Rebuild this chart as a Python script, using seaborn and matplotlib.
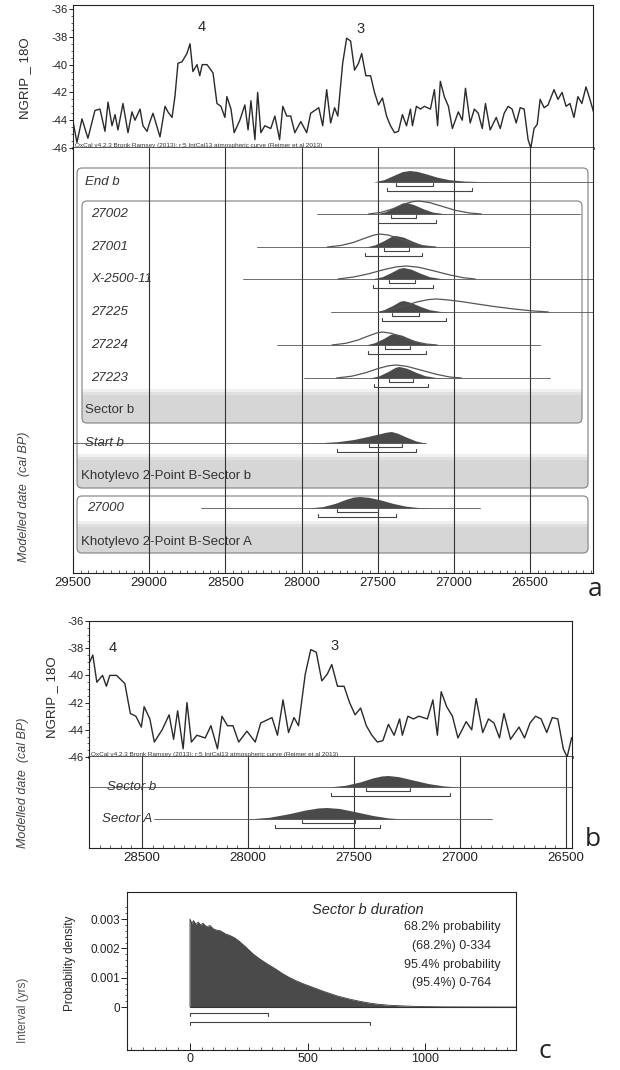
import numpy as np
import pandas as pd
import matplotlib
matplotlib.use("Agg")
import matplotlib.pyplot as plt
import matplotlib.ticker as mticker
import matplotlib.transforms as mtransforms
from matplotlib.patches import FancyBboxPatch, Rectangle
import seaborn as sns

W, H = 620, 1070

# NGRIP d18O record (cal BP / permil)
ngrip_year = [29500, 29474, 29441, 29402, 29356, 29323, 29290, 29270, 29244, 29224,
              29205, 29172, 29139, 29113, 29093, 29060, 29041, 29014, 28995, 28975,
              28929, 28896, 28877, 28850, 28831, 28811, 28785, 28752, 28732, 28713,
              28686, 28668, 28652, 28620, 28581, 28555, 28529, 28503, 28490, 28463,
              28442, 28405, 28372, 28351, 28332, 28306, 28288, 28267, 28241, 28202,
              28175, 28144, 28123, 28097, 28071, 28044, 28005, 27966, 27940, 27887,
              27861, 27835, 27809, 27783, 27762, 27730, 27704, 27678, 27652, 27626,
              27605, 27578, 27547, 27521, 27495, 27469, 27442, 27416, 27390, 27364,
              27338, 27311, 27285, 27272, 27246, 27220, 27194, 27154, 27128, 27107,
              27089, 27063, 27036, 27010, 26971, 26945, 26924, 26893, 26866, 26840,
              26814, 26793, 26762, 26722, 26696, 26670, 26644, 26618, 26591, 26565,
              26539, 26513, 26495, 26474, 26453, 26434, 26408, 26382, 26343, 26317,
              26290, 26264, 26238, 26212, 26186, 26160, 26133, 26107, 26081]
ngrip_d18o = [-44.1, -45.6, -43.9, -45.3, -43.3, -43.2, -44.8, -42.7, -44.4, -43.6,
              -44.7, -42.8, -44.9, -43.4, -44.0, -43.2, -44.4, -44.8, -44.1, -43.5,
              -45.2, -43.0, -43.4, -43.8, -42.3, -39.9, -39.8, -39.2, -38.5, -40.5,
              -40.0, -40.8, -40.0, -40.0, -40.6, -42.8, -43.0, -43.8, -42.3, -43.2,
              -44.9, -44.0, -42.9, -44.7, -42.6, -45.4, -42.0, -44.9, -44.4, -44.6,
              -43.7, -45.4, -43.0, -43.7, -43.7, -44.9, -44.1, -44.9, -43.5, -43.1,
              -44.4, -41.8, -44.2, -43.1, -43.7, -39.9, -38.1, -38.3, -40.4, -39.9,
              -39.2, -40.8, -40.8, -42.0, -42.9, -42.4, -43.7, -44.4, -44.9, -44.8,
              -43.6, -44.4, -43.2, -44.4, -43.0, -43.2, -43.0, -43.2, -41.8, -44.4,
              -41.2, -42.3, -43.0, -44.6, -43.4, -44.0, -41.7, -44.2, -43.2, -43.5,
              -44.6, -42.8, -44.7, -43.8, -44.6, -43.5, -43.0, -43.2, -44.2, -43.1,
              -43.2, -45.4, -46.0, -44.6, -44.3, -42.5, -43.1, -42.9, -41.8, -42.5,
              -42.0, -43.0, -42.8, -43.8, -42.3, -42.8, -41.6, -42.5, -43.5]
assert len(ngrip_year) == len(ngrip_d18o)

# panel a: modelled dates (posterior = filled, likelihood = outline), relative heights
row_labels = ["End b", "27002", "27001", "X-2500-11", "27225", "27224", "27223", "Start b", "27000"]

end_b_yr = [27530, 27460, 27400, 27340, 27290, 27240, 27180, 27110, 27030, 26930, 26800, 26600, 26350]
end_b_post = [0, 0.2, 0.55, 0.9, 1.0, 0.92, 0.7, 0.42, 0.2, 0.08, 0.03, 0.01, 0]

s27002_yr = [27510, 27450, 27390, 27340, 27310, 27260, 27200, 27140, 27070, 27000]
s27002_post = [0, 0.2, 0.6, 0.95, 1.0, 0.8, 0.45, 0.17, 0.04, 0]
s27002_like_yr = [27560, 27480, 27400, 27330, 27270, 27230, 27160, 27080, 26990, 26900, 26820]
s27002_like = [0, 0.12, 0.4, 0.75, 0.95, 1.0, 0.88, 0.6, 0.28, 0.08, 0]

s27001_yr = [27580, 27520, 27460, 27410, 27380, 27330, 27270, 27210, 27140, 27070]
s27001_post = [0, 0.18, 0.55, 0.92, 1.0, 0.85, 0.5, 0.2, 0.05, 0]
s27001_like_yr = [27830, 27740, 27660, 27590, 27530, 27490, 27430, 27360, 27280, 27200, 27120]
s27001_like = [0, 0.12, 0.35, 0.65, 0.9, 1.0, 0.92, 0.65, 0.3, 0.08, 0]

x2500_yr = [27540, 27470, 27410, 27360, 27330, 27280, 27220, 27160, 27090, 27020]
x2500_post = [0, 0.2, 0.58, 0.93, 1.0, 0.85, 0.5, 0.2, 0.05, 0]
x2500_like_yr = [27760, 27660, 27560, 27460, 27380, 27310, 27230, 27130, 27030, 26940, 26860]
x2500_like = [0, 0.15, 0.4, 0.72, 0.93, 1.0, 0.9, 0.62, 0.32, 0.1, 0]

s27225_yr = [27520, 27460, 27400, 27355, 27330, 27280, 27220, 27160, 27090, 27020]
s27225_post = [0, 0.2, 0.58, 0.93, 1.0, 0.82, 0.48, 0.2, 0.05, 0]
s27225_like_yr = [27480, 27400, 27320, 27240, 27170, 27115, 27040, 26950, 26850, 26740, 26620, 26500, 26380]
s27225_like = [0, 0.2, 0.5, 0.78, 0.95, 1.0, 0.93, 0.8, 0.62, 0.43, 0.25, 0.1, 0]

s27224_yr = [27580, 27520, 27460, 27415, 27390, 27340, 27280, 27220, 27150, 27080]
s27224_post = [0, 0.2, 0.58, 0.93, 1.0, 0.85, 0.5, 0.2, 0.05, 0]
s27224_like_yr = [27800, 27710, 27630, 27560, 27505, 27470, 27410, 27340, 27260, 27180, 27110]
s27224_like = [0, 0.13, 0.38, 0.7, 0.93, 1.0, 0.9, 0.6, 0.27, 0.07, 0]

s27223_yr = [27550, 27490, 27430, 27385, 27360, 27310, 27250, 27190, 27120, 27050]
s27223_post = [0, 0.2, 0.58, 0.93, 1.0, 0.85, 0.5, 0.2, 0.05, 0]
s27223_like_yr = [27770, 27670, 27580, 27500, 27430, 27380, 27310, 27220, 27120, 27030, 26950]
s27223_like = [0, 0.14, 0.4, 0.72, 0.94, 1.0, 0.9, 0.62, 0.3, 0.08, 0]

start_b_yr = [27970, 27860, 27760, 27660, 27570, 27490, 27440, 27410, 27370, 27310, 27250, 27190]
start_b_post = [0, 0.04, 0.12, 0.3, 0.55, 0.8, 0.95, 1.0, 0.85, 0.5, 0.18, 0]

s27000_yr = [27960, 27860, 27780, 27710, 27660, 27620, 27560, 27480, 27400, 27320, 27240, 27150]
s27000_post = [0, 0.12, 0.4, 0.75, 0.95, 1.0, 0.93, 0.7, 0.4, 0.17, 0.05, 0]

# extent of the thin line under each distribution (cal BP)
row_line_from = [27495, 27900, 28293, 28385, 27809, 28162, 27987, 29500, 28660]
row_line_to = [26087, 26173, 26500, 26087, 26087, 26434, 26369, 27180, 26827]
# 68.2 % and 95.4 % ranges
range68_from = [27377, 27416, 27461, 27429, 27408, 27455, 27429, 27560, 27770]
range68_to = [27136, 27246, 27293, 27254, 27228, 27285, 27267, 27338, 27495]
range95_from = [27442, 27495, 27586, 27534, 27469, 27565, 27526, 27770, 27893]
range95_to = [26879, 27115, 27212, 27134, 27055, 27186, 27167, 27246, 27377]

# panel b: sector sums
sector_labels = ["Sector b", "Sector A"]
sector_b_yr = [27620, 27540, 27470, 27410, 27370, 27340, 27290, 27220, 27150, 27080, 27010]
sector_b_post = [0, 0.15, 0.45, 0.8, 0.96, 1.0, 0.9, 0.6, 0.3, 0.1, 0]
sector_a_yr = [28000, 27900, 27810, 27730, 27670, 27630, 27570, 27490, 27410, 27340, 27270]
sector_a_post = [0, 0.15, 0.45, 0.78, 0.96, 1.0, 0.92, 0.62, 0.3, 0.1, 0]
sector_line_from = [28750, 28443]
sector_line_to = [26472, 26849]
sector68_from = [27443, 27745]
sector68_to = [27236, 27495]
sector95_from = [27608, 27873]
sector95_to = [27047, 27377]

# panel c: Sector b duration
dur_yr = [0, 0, 8, 15, 25, 35, 45, 55, 70, 85, 100, 115, 130, 150, 170, 190, 210, 230,
          250, 270, 290, 310, 335, 360, 390, 420, 450, 480, 510, 540, 570, 600, 630,
          660, 690, 720, 760, 800, 850, 900, 950, 1000, 1080, 1180, 1300, 1387]
dur_density_e3 = [0, 3.0, 2.85, 2.95, 2.82, 2.9, 2.8, 2.86, 2.74, 2.78, 2.66, 2.62, 2.6,
                  2.5, 2.44, 2.36, 2.24, 2.1, 1.95, 1.8, 1.68, 1.57, 1.44, 1.32, 1.16,
                  1.02, 0.9, 0.8, 0.71, 0.62, 0.53, 0.45, 0.37, 0.31, 0.25, 0.2, 0.14,
                  0.095, 0.06, 0.04, 0.025, 0.015, 0.006, 0.003, 0.001, 0]
dur68 = (0, 334)
dur95 = (0, 764)
dur_text = ["68.2% probability", "(68.2%) 0-334", "95.4% probability", "(95.4%) 0-764"]

OXCAL_NOTE = "OxCal v4.2.3 Bronk Ramsey (2013); r:5 IntCal13 atmospheric curve (Reimer et al 2013)"

sns.set_theme(style="ticks")
plt.rcParams["font.family"] = ["Liberation Sans", "DejaVu Sans"]
plt.rcParams["axes.unicode_minus"] = False
plt.rcParams["axes.linewidth"] = 0.8
plt.rcParams["axes.edgecolor"] = "#222222"
plt.rcParams["xtick.color"] = "#222222"
plt.rcParams["ytick.color"] = "#222222"

INK = "#2a2a2a"
FILL = "#4a4a4a"

fig = plt.figure(figsize=(W / 100, H / 100), dpi=100)
pxt = mtransforms.Affine2D().scale(1 / W, -1 / H).translate(0, 1) + fig.transFigure


def add_ax(x0, y0, x1, y1):
    return fig.add_axes([x0 / W, 1 - y1 / H, (x1 - x0) / W, (y1 - y0) / H])


def ftext(x, y, s, **kw):
    fig.text(x / W, 1 - y / H, s, **kw)


def ngrip_panel(ax, xlim, ytop):
    df = pd.DataFrame({"year": ngrip_year, "d18o": ngrip_d18o})
    sns.lineplot(data=df, x="year", y="d18o", ax=ax, color=INK, linewidth=1.0,
                 estimator=None, sort=False)
    ax.set_xlim(*xlim)
    ax.set_ylim(-46, ytop)
    ax.set_xlabel("")
    ax.set_ylabel("")
    ax.set_xticks([])
    ax.yaxis.set_major_locator(mticker.MultipleLocator(2))
    ax.yaxis.set_minor_locator(mticker.MultipleLocator(0.5))
    ax.tick_params(axis="y", which="major", direction="out", length=3, width=0.7,
                   labelsize=8, pad=1)
    ax.tick_params(axis="y", which="minor", direction="out", length=1.5, width=0.5)
    ax.spines["bottom"].set_linewidth(1.8)
    ax.text(0.004, 0.002, OXCAL_NOTE, transform=ax.transAxes, fontsize=4.6,
            ha="left", va="bottom", color="#333333")


def date_axis(ax, xlim, ylim, grid):
    ax.set_xlim(*xlim)
    ax.set_ylim(*ylim)
    ax.set_yticks([])
    ax.spines["top"].set_visible(False)
    ax.xaxis.set_major_locator(mticker.FixedLocator(grid + [29500]))
    ax.xaxis.set_minor_locator(mticker.MultipleLocator(50))
    ax.xaxis.set_major_formatter(mticker.StrMethodFormatter("{x:.0f}"))
    ax.tick_params(axis="x", which="major", direction="in", length=5, width=0.7,
                   labelsize=9.5, pad=3)
    ax.tick_params(axis="x", which="minor", direction="in", length=2.5, width=0.5)
    for yr in grid:
        ax.axvline(yr, color="#333333", lw=0.8, zorder=1)


def bracket(ax, lo, hi, y, tick):
    ax.plot([lo, lo, hi, hi], [y - tick, y, y, y - tick], color="#444444", lw=0.8, zorder=3)


def dist_row(ax, y, line, post_yr, post, like_yr=None, like=None, r68=None, r95=None,
             h_post=11.5, h_like=13):
    ax.plot(line, [y, y], color="#555555", lw=0.6, zorder=2)
    ax.fill_between(post_yr, y, y - h_post * np.asarray(post), color=FILL, lw=0, zorder=2.5)
    if like_yr is not None:
        sns.lineplot(x=like_yr, y=y - h_like * np.asarray(like), ax=ax, color="#555555",
                     linewidth=0.9, estimator=None, sort=False, zorder=3)
    bracket(ax, r68[0], r68[1], y + 4, 3)
    bracket(ax, r95[0], r95[1], y + 9, 3)


def group_box(ax, x0, y0, x1, y1, band_top, z):
    box = FancyBboxPatch((x0, y0), x1 - x0, y1 - y0, boxstyle="round,pad=0,rounding_size=5",
                         transform=pxt, facecolor="white", edgecolor="none", zorder=z)
    ax.add_patch(box)
    for top, alpha in [(band_top - 6, 0.35), (band_top - 3, 0.6), (band_top, 1.0)]:
        band = Rectangle((x0, top), x1 - x0, y1 - top, transform=pxt, facecolor="#d6d6d6",
                         edgecolor="none", alpha=alpha, zorder=z + 0.01)
        ax.add_patch(band)
        band.set_clip_path(box)
    edge = FancyBboxPatch((x0, y0), x1 - x0, y1 - y0, boxstyle="round,pad=0,rounding_size=5",
                          transform=pxt, facecolor="none", edgecolor="#8c8c8c", lw=0.9,
                          zorder=z + 0.02)
    ax.add_patch(edge)


grid_a = [29000, 28500, 28000, 27500, 27000, 26500]

# ---------------- panel a ----------------
ax_at = add_ax(73, 5, 593, 148)
ngrip_panel(ax_at, (29500, 26087), -35.71)
ax_at.text(28654, -37.3, "4", fontsize=10.5, ha="center", va="center", color=INK)
ax_at.text(27610, -37.44, "3", fontsize=10.5, ha="center", va="center", color=INK)

ax_al = add_ax(73, 148, 593, 573)
date_axis(ax_al, (29500, 26087), (573, 148), grid_a)
group_box(ax_al, 77, 168, 588, 488, 460, 0.3)
group_box(ax_al, 82, 201, 582, 423, 395, 0.5)
group_box(ax_al, 77, 496, 588, 553, 527, 0.3)

row_y = [182, 214, 247, 279, 312, 345, 378, 443, 508]
post_sets = [(end_b_yr, end_b_post, None, None),
             (s27002_yr, s27002_post, s27002_like_yr, s27002_like),
             (s27001_yr, s27001_post, s27001_like_yr, s27001_like),
             (x2500_yr, x2500_post, x2500_like_yr, x2500_like),
             (s27225_yr, s27225_post, s27225_like_yr, s27225_like),
             (s27224_yr, s27224_post, s27224_like_yr, s27224_like),
             (s27223_yr, s27223_post, s27223_like_yr, s27223_like),
             (start_b_yr, start_b_post, None, None),
             (s27000_yr, s27000_post, None, None)]
label_x = [0.023, 0.035, 0.035, 0.035, 0.035, 0.035, 0.035, 0.023, 0.027]
lab_tr = mtransforms.blended_transform_factory(ax_al.transAxes, ax_al.transData)
for i, (py, (pyr, pp, lyr, lp)) in enumerate(zip(row_y, post_sets)):
    dist_row(ax_al, py, [row_line_from[i], row_line_to[i]], pyr, pp, lyr, lp,
             (range68_from[i], range68_to[i]), (range95_from[i], range95_to[i]))
    ax_al.text(label_x[i], py, row_labels[i], transform=lab_tr, fontsize=9.5,
               style="italic", ha="left", va="center", color="#333333", zorder=5)

for txt, gx, gy in [("Sector b", 0.023, 410),
                    ("Khotylevo 2-Point B-Sector b", 0.015, 476),
                    ("Khotylevo 2-Point B-Sector A", 0.015, 542)]:
    ax_al.text(gx, gy, txt, transform=lab_tr, fontsize=9.5, ha="left", va="center",
               color="#333333", zorder=5)

ftext(25, 78, "NGRIP _ 18O", rotation=90, fontsize=9.5, ha="center", va="center", color=INK)
ftext(24, 497, "Modelled date  (cal BP)", rotation=90, fontsize=9, style="italic",
      ha="center", va="center", color="#444444")
ftext(595, 590, "a", fontsize=19, family="Open Sans", ha="center", va="center", color="#222222")

# ---------------- panel b ----------------
ax_bt = add_ax(89, 621, 572, 757)
ngrip_panel(ax_bt, (28750, 26472), -36)
ax_bt.text(28637, -38.0, "4", fontsize=10.5, ha="center", va="center", color=INK)
ax_bt.text(27594, -37.85, "3", fontsize=10.5, ha="center", va="center", color=INK)

ax_bl = add_ax(89, 757, 572, 848)
date_axis(ax_bl, (28750, 26472), (848, 757), [28500, 28000, 27500, 27000, 26500])
sector_y = [787, 819]
sector_sets = [(sector_b_yr, sector_b_post), (sector_a_yr, sector_a_post)]
lab_trb = mtransforms.blended_transform_factory(ax_bl.transAxes, ax_bl.transData)
for i, (py, (syr, sp)) in enumerate(zip(sector_y, sector_sets)):
    dist_row(ax_bl, py, [sector_line_from[i], sector_line_to[i]], syr, sp, None, None,
             (sector68_from[i], sector68_to[i]), (sector95_from[i], sector95_to[i]),
             h_post=11.5)
    ax_bl.text([0.037, 0.027][i], py, sector_labels[i], transform=lab_trb, fontsize=9.5,
               style="italic", ha="left", va="center", color="#333333", zorder=5)

ftext(52, 697, "NGRIP _ 18O", rotation=90, fontsize=9.5, ha="center", va="center", color=INK)
ftext(23, 783, "Modelled date  (cal BP)", rotation=90, fontsize=9, style="italic",
      ha="center", va="center", color="#444444")
ftext(593, 840, "b", fontsize=19, family="Open Sans", ha="center", va="center", color="#222222")

# ---------------- panel c ----------------
ax_c = add_ax(127, 892, 516, 1050)
dur_density = np.asarray(dur_density_e3) * 1e-3
ax_c.fill_between(dur_yr, 0, dur_density, color=FILL, lw=0, zorder=2)
sns.lineplot(x=dur_yr, y=dur_density, ax=ax_c, color="#3a3a3a", linewidth=0.6,
             estimator=None, sort=False, zorder=2.5)
ax_c.plot([0, 1387], [0, 0], color="#333333", lw=0.8, zorder=3)
bracket(ax_c, dur68[0], dur68[1], -0.000205, 0.0001)
bracket(ax_c, dur95[0], dur95[1], -0.000511, 0.0001)
ax_c.set_xlim(-268, 1387)
ax_c.set_ylim(-0.001466, 0.003925)
ax_c.set_xlabel("")
ax_c.set_ylabel("")
ax_c.yaxis.set_major_locator(mticker.FixedLocator([0, 0.001, 0.002, 0.003]))
ax_c.yaxis.set_major_formatter(mticker.FixedFormatter(["0", "0.001", "0.002", "0.003"]))
ax_c.yaxis.set_minor_locator(mticker.FixedLocator(np.arange(0, 0.0036, 0.0002)))
ax_c.xaxis.set_major_locator(mticker.FixedLocator([0, 500, 1000]))
ax_c.xaxis.set_minor_locator(mticker.MultipleLocator(50))
ax_c.tick_params(axis="y", which="major", direction="out", length=4, width=0.7,
                 labelsize=8.5, pad=1)
ax_c.tick_params(axis="y", which="minor", direction="out", length=1.5, width=0.5)
ax_c.tick_params(axis="x", which="major", direction="in", length=5, width=0.7,
                 labelsize=9, pad=2)
ax_c.tick_params(axis="x", which="minor", direction="in", length=2.5, width=0.5)

ftext(368, 910, "Sector b duration", fontsize=10.5, style="italic", ha="center",
      va="center", color=INK)
for txt, ty in zip(dur_text, [927, 946, 965, 983]):
    ftext(452, ty, txt, fontsize=9, ha="center", va="center", color=INK)
ftext(70, 963, "Probability density", rotation=90, fontsize=8.5, ha="center",
      va="center", color=INK)
ftext(23, 1010, "Interval (yrs)", rotation=90, fontsize=8.5, ha="center", va="center",
      color="#555555")
ftext(545, 1052, "c", fontsize=19, family="Open Sans", ha="center", va="center", color="#222222")

fig.savefig("out.png", dpi=100)
plt.close(fig)
